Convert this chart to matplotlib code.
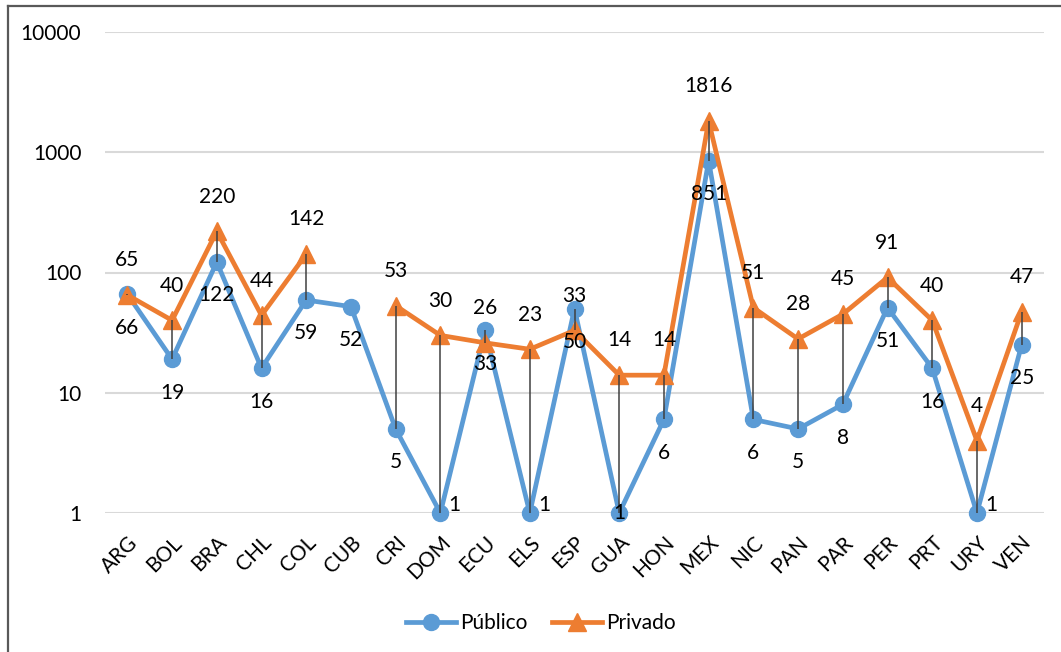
import numpy as np
import matplotlib
matplotlib.use("Agg")
import matplotlib.pyplot as plt
from matplotlib.lines import Line2D

categories = ["ARG", "BOL", "BRA", "CHL", "COL", "CUB", "CRI", "DOM", "ECU", "ELS", "ESP",
              "GUA", "HON", "MEX", "NIC", "PAN", "PAR", "PER", "PRT", "URY", "VEN"]
publico = [66, 19, 122, 16, 59, 52, 5, 1, 33, 1, 50, 1, 6, 851, 6, 5, 8, 51, 16, 1, 25]
privado = [65, 40, 220, 44, 142, np.nan, 53, 30, 26, 23, 33, 14, 14, 1816, 51, 28, 45, 91, 40, 4, 47]
yticks = [1, 10, 100, 1000, 10000]

BLUE = "#5B9BD5"
ORANGE = "#ED7D31"
FONT = "Lato"
FS = 15

plt.rcParams["font.family"] = [FONT, "DejaVu Sans"]

W, H = 1061, 652
fig = plt.figure(figsize=(W / 100, H / 100), dpi=100)
ax = fig.add_axes([105 / W, 1 - 513 / H, (1044 - 105) / W, (513 - 32) / H])

x = np.arange(len(categories))
pub = np.array(publico, dtype=float)
pri = np.array(privado, dtype=float)

# high-low drop lines
for xi, a, b in zip(x, pub, pri):
    if np.isfinite(a) and np.isfinite(b):
        ax.plot([xi, xi], [min(a, b), max(a, b)], color="#404040", lw=1.1, zorder=6,
                solid_capstyle="butt", clip_on=False)

ax.plot(x, pub, color=BLUE, lw=3.4, marker="o", markersize=11.5, label="Público", zorder=3,
        clip_on=False)
ax.plot(x, pri, color=ORANGE, lw=3.4, marker="^", markersize=13, label="Privado", zorder=4,
        clip_on=False)

# data labels
special = {"DOM": (6, 6, "left"), "ELS": (6, 6, "left"), "URY": (6, 6, "left"),
           "GUA": (0, 0, "center")}
for xi, c, v in zip(x, categories, pub):
    if not np.isfinite(v):
        continue
    dx, dy, ha = special.get(c, (0, -24, "center"))
    ax.annotate(f"{int(v)}", (xi, v), xytext=(dx, dy), textcoords="offset points",
                ha=ha, va="center", fontsize=FS, color="black", zorder=8,
                annotation_clip=False)
for xi, v in zip(x, pri):
    if not np.isfinite(v):
        continue
    ax.annotate(f"{int(v)}", (xi, v), xytext=(0, 25), textcoords="offset points",
                ha="center", va="center", fontsize=FS, color="black", zorder=8,
                annotation_clip=False)

ax.set_yscale("log")
ax.set_ylim(1, 10000)
ax.set_xlim(-0.5, len(categories) - 0.5)
ax.set_yticks(yticks)
ax.set_yticklabels([str(t) for t in yticks], fontsize=FS)
ax.minorticks_off()
ax.set_xticks(x)
ax.set_xticklabels(categories, rotation=45, ha="right", rotation_mode="anchor", fontsize=FS)
ax.tick_params(axis="both", length=0)
ax.tick_params(axis="y", pad=17)
ax.tick_params(axis="x", pad=14)
for s in ax.spines.values():
    s.set_visible(False)
ax.grid(axis="y", color="#d9d9d9", lw=1.5, zorder=0)
ax.set_axisbelow(True)

leg = fig.legend(loc="center", bbox_to_anchor=(541 / W, 1 - 623 / H), ncol=2, frameon=False,
                 fontsize=FS, handlelength=2.4, columnspacing=1.2, handletextpad=0.2)

# chart border (top and left visible)
fig.add_artist(Line2D([8 / W, 1.0], [1 - 6 / H, 1 - 6 / H], transform=fig.transFigure,
                      color="#595959", lw=1.6))
fig.add_artist(Line2D([8 / W, 8 / W], [0, 1 - 6 / H], transform=fig.transFigure,
                      color="#595959", lw=1.6))

fig.savefig("out.png", dpi=100)
